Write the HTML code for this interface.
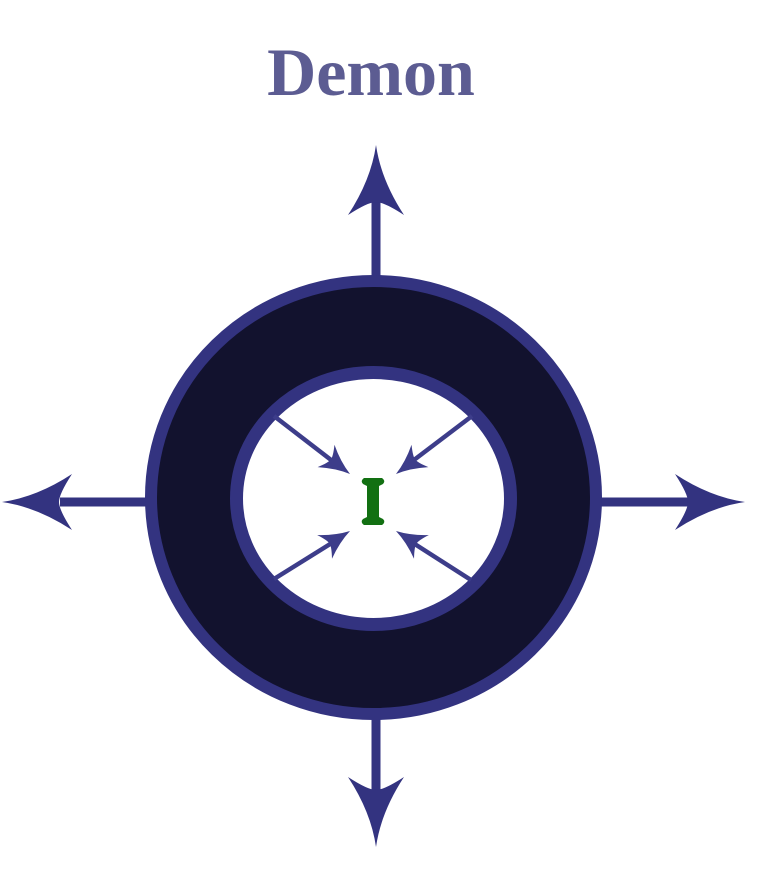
<!DOCTYPE html>
<html><head><meta charset="utf-8"><style>
html,body{margin:0;padding:0;background:#fff;width:768px;height:891px;overflow:hidden}
</style></head><body>
<svg width="768" height="891" viewBox="0 0 768 891" xmlns="http://www.w3.org/2000/svg">
<defs>
<path id="ah" d="M0,0 Q5,35 28,70 Q8,57 0,57 Q-8,57 -28,70 Q-5,35 0,0Z" fill="#333380"/>
<path id="sh" d="M0,0 Q4,15 14,30 Q4,24 0,24 Q-4,24 -14,30 Q-4,15 0,0Z" fill="#3d3d8a"/>
</defs>
<text x="371" y="95" text-anchor="middle" font-family="'Liberation Serif',serif" font-weight="bold" font-size="68" fill="#5c5c92">Demon</text>
<g stroke="#333380" stroke-width="9">
<line x1="376" y1="200" x2="376" y2="280"/>
<line x1="376" y1="715" x2="376" y2="795"/>
<line x1="60" y1="502" x2="150" y2="502"/>
<line x1="598" y1="502" x2="690" y2="502"/>
</g>
<use href="#ah" transform="translate(376,145)"/>
<use href="#ah" transform="translate(376,847) rotate(180)"/>
<use href="#ah" transform="translate(2,502) rotate(-90)"/>
<use href="#ah" transform="translate(745,502) rotate(90)"/>
<ellipse cx="373.5" cy="497.5" rx="222.5" ry="216.5" fill="#12122e" stroke="#333380" stroke-width="12"/>
<ellipse cx="373.5" cy="498.5" rx="137" ry="126" fill="#fff" stroke="#333380" stroke-width="13"/>
<g stroke="#3d3d8a" stroke-width="4.5">
<line x1="274" y1="416" x2="335" y2="463"/>
<line x1="472" y1="416" x2="410" y2="463"/>
<line x1="274" y1="579" x2="335" y2="541"/>
<line x1="471" y1="580" x2="410" y2="541"/>
</g>
<use href="#sh" transform="translate(350,474) rotate(127)"/>
<use href="#sh" transform="translate(396,474) rotate(-127)"/>
<use href="#sh" transform="translate(350,531) rotate(58)"/>
<use href="#sh" transform="translate(396,531) rotate(-58)"/>
<path d="M364,478 L382,478 Q386,481 383,484 L379,486 L379,517 L383,519 Q386,522 382,525 L364,525 Q360,522 363,519 L367,517 L367,486 L363,484 Q360,481 364,478Z" fill="#127012"/>
</svg>
</body></html>
